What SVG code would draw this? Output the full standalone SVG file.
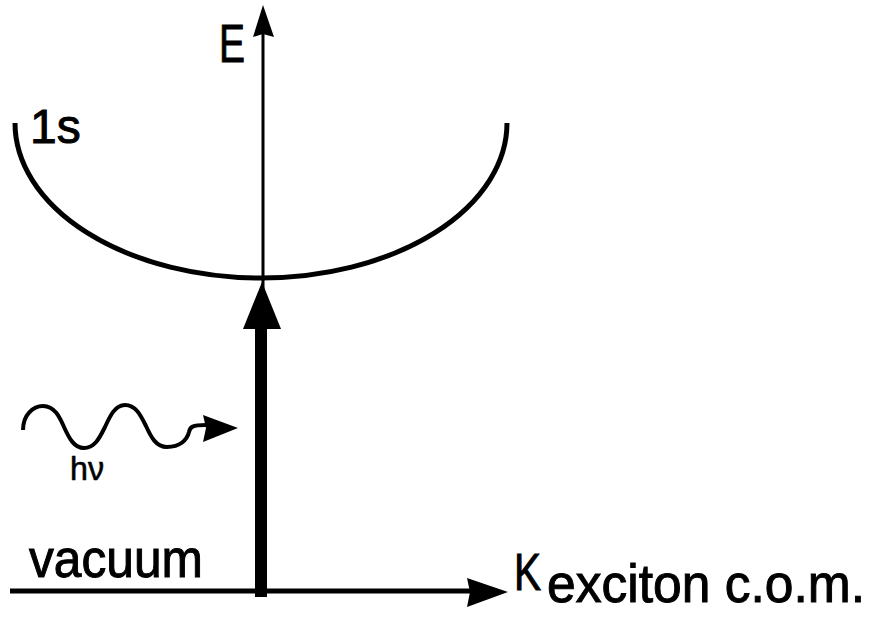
<svg xmlns="http://www.w3.org/2000/svg" width="878" height="635" viewBox="0 0 878 635">
<style>
.ln{fill:none;stroke:#000;stroke-linecap:butt}
.hd{fill:#000;stroke:none}
.t{font-family:"Liberation Sans",Arial,sans-serif;fill:#000;stroke:#000;stroke-width:1}
</style>
<rect width="878" height="635" fill="#fff"/>
<g id="connectors">
<g id="k-axis">
<path class="ln" d="M10,591 H470" stroke-width="5"/>
<polygon class="hd" points="467,578 508,592 467,607 470,592"/>
</g>
<g id="e-axis">
<path class="ln" d="M263,592 V33" stroke-width="3"/>
<polygon class="hd" points="263,5 274,37 263,34 253,37"/>
</g>
<g id="excitation">
<path class="ln" d="M261,597 V326" stroke-width="12"/>
<polygon class="hd" points="262,282 281,329 243,329"/>
</g>
<g id="photon">
<path class="ln" stroke-width="4" d="M23,430 C23,415 33,406 43,406 C55,406 60,418 64,427 C69,438 74,448 84,448 C95,448 100,437 105,427 C110,416 115,405 125,405 C136,405 141,416 146,426 C151,437 156,447 167,447 C180,447 187,440 189,432 C190,427 192,425 206,425"/>
<polygon class="hd" points="203,415 238,428 203,442 206,428"/>
</g>
</g>
<g id="dispersion-1s">
<path class="ln" d="M15,123 A246,155 0 0 0 507,123" stroke-width="5"/>
</g>
<g id="labels">
<text id="label-E" class="t" x="219" y="62" font-size="54" textLength="26" lengthAdjust="spacingAndGlyphs">E</text>
<text id="label-1s" class="t" x="30" y="143" font-size="48">1s</text>
<text id="label-hv" class="t" x="70" y="480" font-size="33" textLength="34" lengthAdjust="spacingAndGlyphs" style="stroke-width:0.6">hν</text>
<text id="label-vacuum" class="t" x="29" y="577" font-size="54" textLength="174" lengthAdjust="spacingAndGlyphs">vacuum</text>
<text id="label-K" class="t" x="514" y="590" font-size="52" textLength="27" lengthAdjust="spacingAndGlyphs">K</text>
<text id="label-sub" class="t" x="547" y="602" font-size="53" textLength="318" lengthAdjust="spacingAndGlyphs">exciton c.o.m.</text>
</g>
</svg>
